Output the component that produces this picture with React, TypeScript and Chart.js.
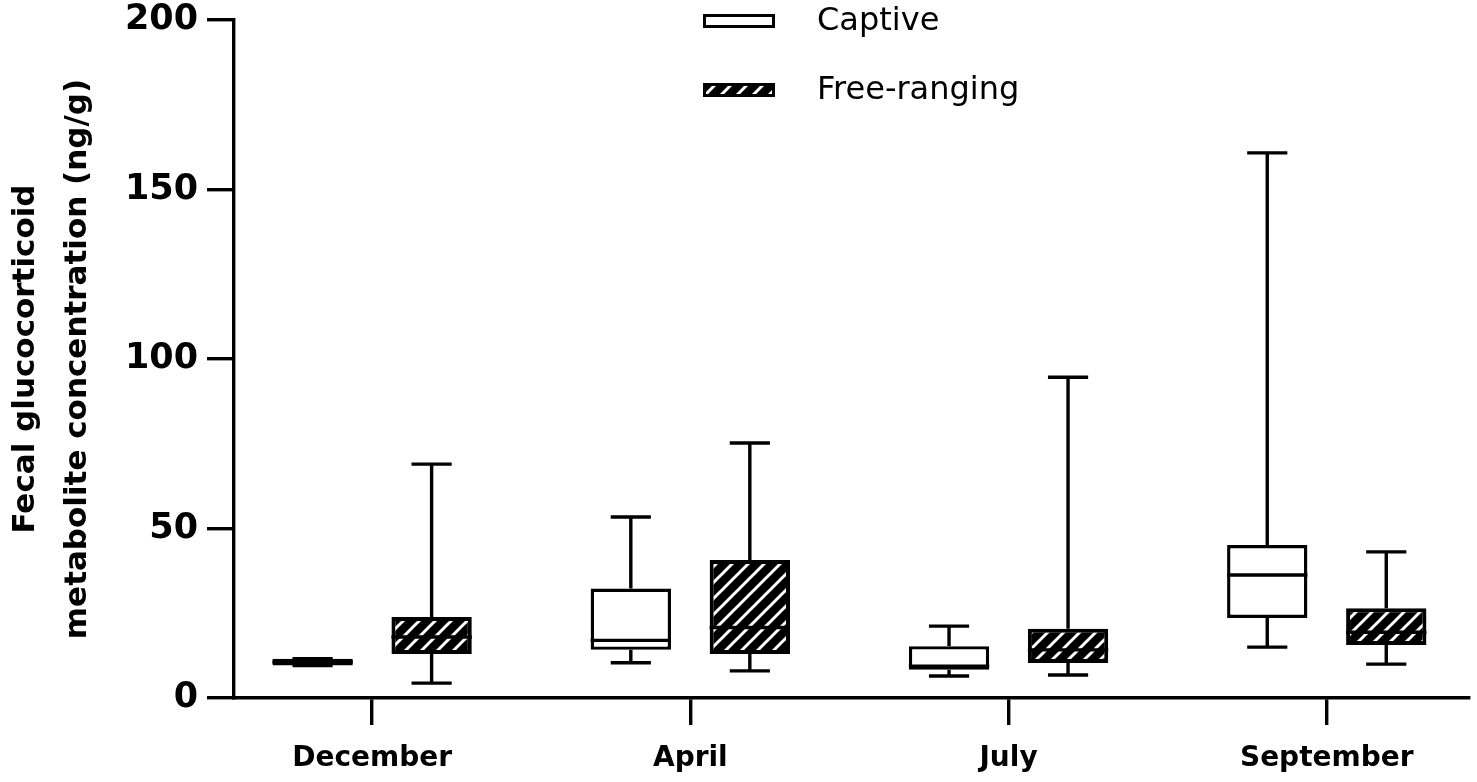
import { useEffect, useRef } from 'react'
import { Chart, registerables, Plugin } from 'chart.js'

Chart.register(...registerables)

const categories = ['December', 'April', 'July', 'September']

const seriesNames = ['Captive', 'Free-ranging']

// captive animals
const captiveMin = [9.6, 10.4, 6.5, 15.0]
const captiveQ1 = [9.6, 14.2, 8.3, 23.6]
const captiveMedian = [10.6, 17.0, 9.4, 36.3]
const captiveQ3 = [11.6, 32.3, 15.3, 45.1]
const captiveMax = [11.6, 53.4, 21.2, 160.8]

// free-ranging animals
const freeMin = [4.4, 8.0, 6.8, 10.0]
const freeQ1 = [13.0, 13.0, 10.3, 15.6]
const freeMedian = [18.0, 20.8, 14.2, 19.4]
const freeQ3 = [23.9, 40.7, 20.4, 26.5]
const freeMax = [69.0, 75.2, 94.6, 43.1]

const yTicks = [0, 50, 100, 150, 200]

const BOLD = 'DejaVu Sans'
const LW = 3.4

function makeHatch(): CanvasPattern | string {
  const s = 16
  const c = document.createElement('canvas')
  c.width = s
  c.height = s
  const g = c.getContext('2d')
  if (!g) return '#000'
  g.fillStyle = '#000'
  g.fillRect(0, 0, s, s)
  g.strokeStyle = '#fff'
  g.lineWidth = 3
  g.beginPath()
  g.moveTo(-2, s + 2)
  g.lineTo(s + 2, -2)
  g.moveTo(-2, 2)
  g.lineTo(2, -2)
  g.moveTo(s - 2, s + 2)
  g.lineTo(s + 2, s - 2)
  g.stroke()
  return g.createPattern(c, 'repeat') || '#000'
}

const whiskerPlugin: Plugin<'bar'> = {
  id: 'whiskers',
  afterDatasetsDraw(chart) {
    const ctx = chart.ctx
    const yScale = chart.scales.y
    const groups = [
      [captiveMin, captiveQ1, captiveMedian, captiveQ3, captiveMax],
      [freeMin, freeQ1, freeMedian, freeQ3, freeMax],
    ]
    ctx.save()
    ctx.strokeStyle = '#000'
    ctx.lineWidth = LW
    groups.forEach(([mins, q1s, meds, q3s, maxs], d) => {
      const meta = chart.getDatasetMeta(d)
      meta.data.forEach((bar: any, i: number) => {
        const { x, width } = bar.getProps(['x', 'width'], true)
        const yMin = yScale.getPixelForValue(mins[i])
        const yQ1 = yScale.getPixelForValue(q1s[i])
        const yMed = yScale.getPixelForValue(meds[i])
        const yQ3 = yScale.getPixelForValue(q3s[i])
        const yMax = yScale.getPixelForValue(maxs[i])
        const cap = width / 4
        ctx.beginPath()
        // median
        ctx.moveTo(x - width / 2, yMed)
        ctx.lineTo(x + width / 2, yMed)
        // whiskers
        ctx.moveTo(x, yQ3)
        ctx.lineTo(x, yMax)
        ctx.moveTo(x, yQ1)
        ctx.lineTo(x, yMin)
        // caps
        ctx.moveTo(x - cap, yMax)
        ctx.lineTo(x + cap, yMax)
        ctx.moveTo(x - cap, yMin)
        ctx.lineTo(x + cap, yMin)
        ctx.stroke()
      })
    })
    ctx.restore()
  },
}

const legendPlugin: Plugin<'bar'> = {
  id: 'boxLegend',
  afterDraw(chart) {
    const ctx = chart.ctx
    const { left, top } = chart.chartArea
    const x0 = left + 469
    ctx.save()
    ctx.font = "32px 'DejaVu Sans'"
    ctx.textBaseline = 'middle'
    ctx.textAlign = 'left'
    chart.data.datasets.forEach((ds: any, d: number) => {
      const yc = top + 1 + d * 69
      ctx.fillStyle = ds.backgroundColor
      ctx.fillRect(x0, yc - 7, 72, 14)
      ctx.strokeStyle = '#000'
      ctx.lineWidth = 3
      ctx.strokeRect(x0 + 1.5, yc - 5.5, 69, 11)
      ctx.fillStyle = '#000'
      ctx.fillText(ds.label, x0 + 114, yc + 1)
    })
    ctx.restore()
  },
}

export default function App() {
  const chartRef = useRef<HTMLCanvasElement>(null)

  useEffect(() => {
    if (!chartRef.current) return
    const hatch = makeHatch()
    const chart = new Chart(chartRef.current, {
      type: 'bar',
      data: {
        datasets: [
          {
            label: seriesNames[0],
            data: categories.map((_, i) => ({ x: i, y: [captiveQ1[i], captiveQ3[i]] })) as any,
            backgroundColor: '#fff',
            borderColor: '#000',
            borderWidth: LW,
            borderSkipped: false,
          },
          {
            label: seriesNames[1],
            data: categories.map((_, i) => ({ x: i, y: [freeQ1[i], freeQ3[i]] })) as any,
            backgroundColor: hatch as any,
            borderColor: '#000',
            borderWidth: 4,
            borderSkipped: false,
          },
        ],
      },
      options: {
        animation: false,
        responsive: true,
        maintainAspectRatio: false,
        categoryPercentage: 0.748,
        barPercentage: 0.675,
        layout: { padding: { top: 20, right: 8, left: 0, bottom: 0 } },
        plugins: {
          legend: { display: false },
          tooltip: { enabled: false },
        },
        scales: {
          x: {
            type: 'linear',
            min: -0.434,
            max: 3.447,
            offset: false,
            afterBuildTicks: (axis: any) => {
              axis.ticks = categories.map((_, i) => ({ value: i }))
            },
            afterFit: (scale: any) => {
              scale.height = 84
            },
            grid: {
              offset: false,
              drawOnChartArea: false,
              drawTicks: true,
              tickLength: 27,
              lineWidth: LW,
              color: '#000',
            },
            border: { display: true, width: LW, color: '#000' },
            ticks: {
              padding: 17,
              color: '#000',
              font: { family: BOLD, weight: 'bold', size: 28 },
              callback: (v: any) => categories[v] ?? '',
            },
          },
          y: {
            min: 0,
            max: 200,
            afterBuildTicks: (axis: any) => {
              axis.ticks = yTicks.map((v) => ({ value: v }))
            },
            afterFit: (scale: any) => {
              scale.width = 234
            },
            grid: {
              drawOnChartArea: false,
              drawTicks: true,
              tickLength: 27,
              lineWidth: LW,
              color: '#000',
            },
            border: { display: true, width: LW, color: '#000' },
            ticks: {
              padding: 9,
              color: '#000',
              font: { family: BOLD, weight: 'bold', size: 35, lineHeight: 0.6 },
            },
            title: {
              display: true,
              text: ['Fecal glucocorticoid', 'metabolite concentration (ng/g)'],
              color: '#000',
              padding: 0,
              font: { family: BOLD, weight: 'bold', size: 31, lineHeight: 1.68 },
            },
          },
        },
      },
      plugins: [whiskerPlugin, legendPlugin],
    } as any)

    return () => {
      chart.destroy()
    }
  }, [])

  return (
    <div style={{ position: 'absolute', left: 0, top: 0, width: 1477, height: 782, background: '#fff' }}>
      <canvas ref={chartRef} />
    </div>
  )
}
